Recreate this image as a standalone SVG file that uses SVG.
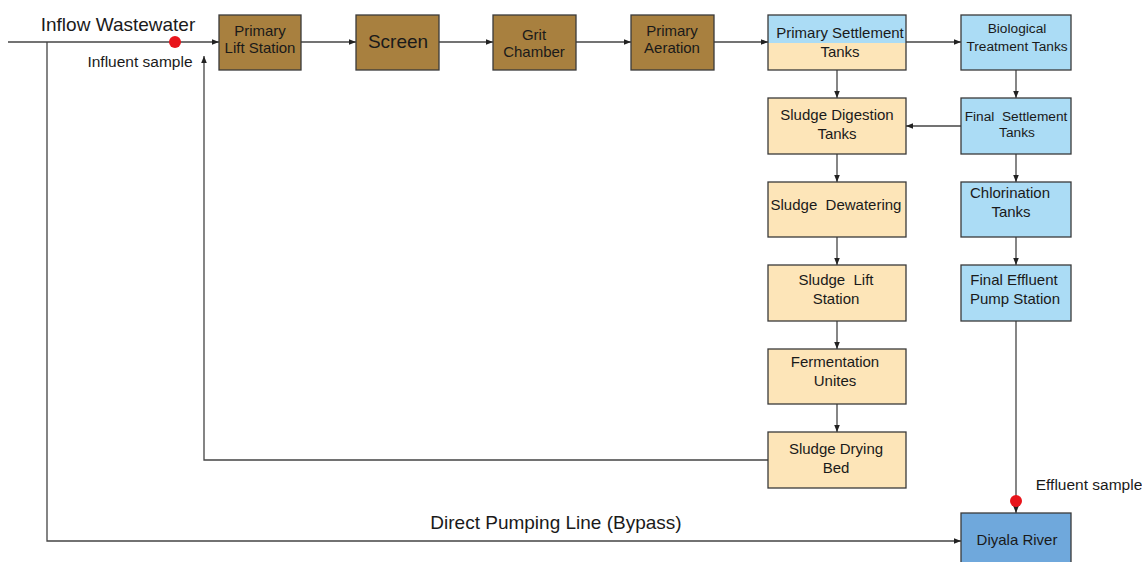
<svg xmlns="http://www.w3.org/2000/svg" width="1142" height="562" viewBox="0 0 1142 562">
<style>
text{font-family:"Liberation Sans",Arial,sans-serif;fill:#1a1a1a;text-anchor:middle}
.b{stroke:#3a3a3a;stroke-width:1.3}
.brown{fill:#a8803f}
.beige{fill:#fde5b8}
.blue{fill:#abdcf5}
.river{fill:#6fa8dc}
.ln{fill:none;stroke:#444;stroke-width:1.3}
.t{font-size:15px}
.s{font-size:13.7px}
</style>
<defs>
<marker id="ah" viewBox="0 0 10 10" refX="10" refY="5" markerWidth="7" markerHeight="7" markerUnits="userSpaceOnUse" orient="auto">
<path d="M0,1 L10,5 L0,9 z" fill="#222"/>
</marker>
</defs>
<rect width="1142" height="562" fill="#fff"/>
<g id="connectors">
<path class="ln" d="M8,42 H219" marker-end="url(#ah)"/>
<path class="ln" d="M301,42 H356" marker-end="url(#ah)"/>
<path class="ln" d="M439,42 H493" marker-end="url(#ah)"/>
<path class="ln" d="M576,42 H631" marker-end="url(#ah)"/>
<path class="ln" d="M714,42 H768" marker-end="url(#ah)"/>
<path class="ln" d="M906,42 H961" marker-end="url(#ah)"/>
<path class="ln" d="M837,70 V98" marker-end="url(#ah)"/>
<path class="ln" d="M1016,70 V98" marker-end="url(#ah)"/>
<path class="ln" d="M961,126 H906" marker-end="url(#ah)"/>
<path class="ln" d="M837,154 V182" marker-end="url(#ah)"/>
<path class="ln" d="M1016,154 V182" marker-end="url(#ah)"/>
<path class="ln" d="M837,237 V265" marker-end="url(#ah)"/>
<path class="ln" d="M1016,237 V265" marker-end="url(#ah)"/>
<path class="ln" d="M837,321 V349" marker-end="url(#ah)"/>
<path class="ln" d="M837,404 V432" marker-end="url(#ah)"/>
<path class="ln" d="M1016,321 V513" marker-end="url(#ah)"/>
<path class="ln" d="M768,460 H204 V56" marker-end="url(#ah)"/>
<path class="ln" d="M47,42 V541 H961" marker-end="url(#ah)"/>
<circle cx="175" cy="42" r="6" fill="#e8141b"/>
<circle cx="1016" cy="501" r="6" fill="#e8141b"/>
</g>
<g id="labels">
<text x="118" y="31" style="font-size:19px">Inflow Wastewater</text>
<text x="140" y="67" style="font-size:15.5px">Influent sample</text>
<text x="1089" y="490" style="font-size:15.5px">Effluent sample</text>
<text x="556" y="529" style="font-size:19px">Direct Pumping Line (Bypass)</text>
</g>
<g id="primary-lift-station">
<rect x="219" y="15" width="82" height="55" class="b brown"/>
<text x="260" y="36" class="t">Primary</text>
<text x="260" y="53" class="t">Lift Station</text>
</g>
<g id="screen">
<rect x="356" y="15" width="83" height="55" class="b brown"/>
<text x="398" y="48" style="font-size:19px">Screen</text>
</g>
<g id="grit-chamber">
<rect x="493" y="15" width="83" height="55" class="b brown"/>
<text x="534" y="40" class="t">Grit</text>
<text x="534" y="57" class="t">Chamber</text>
</g>
<g id="primary-aeration">
<rect x="631" y="15" width="83" height="55" class="b brown"/>
<text x="672" y="36" class="t">Primary</text>
<text x="672" y="53" class="t">Aeration</text>
</g>
<g id="primary-settlement">
<rect x="768" y="15" width="138" height="28" class="blue"/>
<rect x="768" y="43" width="138" height="27" class="beige"/>
<rect x="768" y="15" width="138" height="55" fill="none" class="b"/>
<text x="840" y="38" class="t">Primary Settlement</text>
<text x="840" y="57" class="t">Tanks</text>
</g>
<g id="biological-treatment">
<rect x="961" y="15" width="110" height="55" class="b blue"/>
<text x="1017" y="33" class="s">Biological</text>
<text x="1017" y="51" class="s">Treatment Tanks</text>
</g>
<g id="sludge-digestion">
<rect x="768" y="98" width="138" height="56" class="b beige"/>
<text x="837" y="120" class="t">Sludge Digestion</text>
<text x="837" y="139" class="t">Tanks</text>
</g>
<g id="final-settlement">
<rect x="961" y="98" width="110" height="56" class="b blue"/>
<text x="1016" y="121" class="s" xml:space="preserve">Final  Settlement</text>
<text x="1017" y="137" class="s">Tanks</text>
</g>
<g id="sludge-dewatering">
<rect x="768" y="182" width="138" height="55" class="b beige"/>
<text x="836" y="210" class="t" xml:space="preserve">Sludge  Dewatering</text>
</g>
<g id="chlorination">
<rect x="961" y="182" width="110" height="55" class="b blue"/>
<text x="1010" y="198" class="t">Chlorination</text>
<text x="1011" y="217" class="t">Tanks</text>
</g>
<g id="sludge-lift">
<rect x="768" y="265" width="138" height="56" class="b beige"/>
<text x="836" y="285" class="t" xml:space="preserve">Sludge  Lift</text>
<text x="836" y="304" class="t">Station</text>
</g>
<g id="final-effluent-pump">
<rect x="961" y="265" width="110" height="56" class="b blue"/>
<text x="1014" y="285" class="t">Final Effluent</text>
<text x="1015" y="304" class="t">Pump Station</text>
</g>
<g id="fermentation">
<rect x="768" y="349" width="138" height="55" class="b beige"/>
<text x="835" y="367" class="t">Fermentation</text>
<text x="835" y="386" class="t">Unites</text>
</g>
<g id="sludge-drying-bed">
<rect x="768" y="432" width="138" height="56" class="b beige"/>
<text x="836" y="454" class="t">Sludge Drying</text>
<text x="836" y="473" class="t">Bed</text>
</g>
<g id="diyala-river">
<rect x="961" y="513" width="110" height="52" class="b river"/>
<text x="1017" y="545" class="t">Diyala River</text>
</g>
</svg>
